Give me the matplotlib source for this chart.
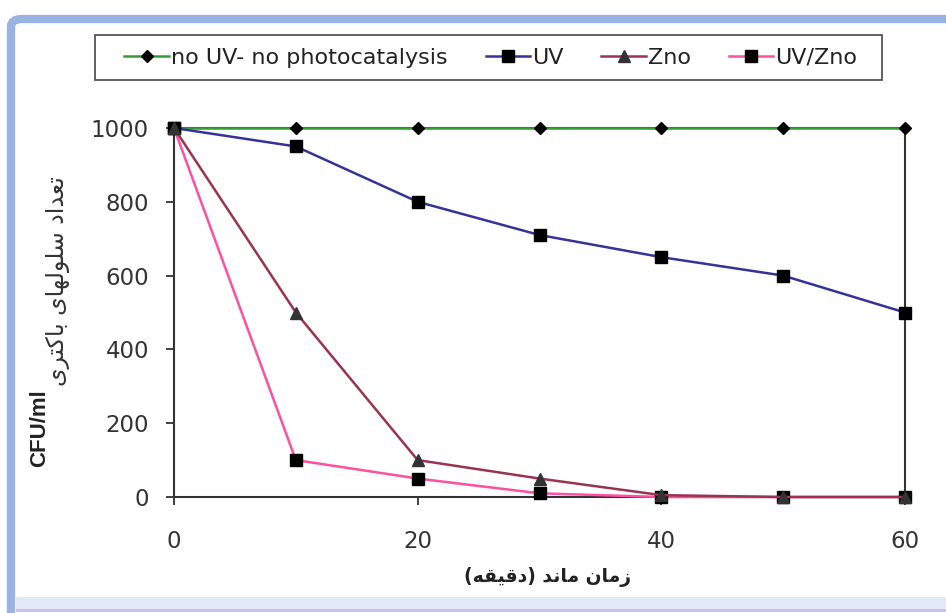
# plot.py
import matplotlib
matplotlib.use('Agg')
import matplotlib.pyplot as plt
from matplotlib.patches import FancyBboxPatch, Rectangle

# --- data ---
minutes = [0, 10, 20, 30, 40, 50, 60]
control = [1000, 1000, 1000, 1000, 1000, 1000, 1000]
uv = [1000, 950, 800, 710, 650, 600, 500]
zno = [1000, 500, 100, 50, 5, 0, 0]
uv_zno = [1000, 100, 50, 10, 0, 0, 0]

series_names = ['no UV- no photocatalysis', 'UV', 'Zno', 'UV/Zno']
x_ticks = [0, 20, 40, 60]
y_ticks = [0, 200, 400, 600, 800, 1000]

x_label_fa = 'زمان ماند (دقیقه)'
y_label_fa = 'تعداد سلولهای باکتری'
y_label_en = 'CFU/ml'

# --- tiny Persian shaper: matplotlib does not join or reorder Arabic script ---
FORMS = {
    'ا': ('\uFE8D', '\uFE8E', '\uFE8D', '\uFE8E'),
    'ب': ('\uFE8F', '\uFE90', '\uFE91', '\uFE92'),
    'ت': ('\uFE95', '\uFE96', '\uFE97', '\uFE98'),
    'د': ('\uFEA9', '\uFEAA', '\uFEA9', '\uFEAA'),
    'ر': ('\uFEAD', '\uFEAE', '\uFEAD', '\uFEAE'),
    'ز': ('\uFEAF', '\uFEB0', '\uFEAF', '\uFEB0'),
    'س': ('\uFEB1', '\uFEB2', '\uFEB3', '\uFEB4'),
    'ع': ('\uFEC9', '\uFECA', '\uFECB', '\uFECC'),
    'ق': ('\uFED5', '\uFED6', '\uFED7', '\uFED8'),
    'ل': ('\uFEDD', '\uFEDE', '\uFEDF', '\uFEE0'),
    'م': ('\uFEE1', '\uFEE2', '\uFEE3', '\uFEE4'),
    'ن': ('\uFEE5', '\uFEE6', '\uFEE7', '\uFEE8'),
    'ه': ('\uFEE9', '\uFEEA', '\uFEEB', '\uFEEC'),
    'و': ('\uFEED', '\uFEEE', '\uFEED', '\uFEEE'),
    'ی': ('\uFEEF', '\uFEF0', '\uFEF3', '\uFEF4'),
    'ک': ('\uFB8E', '\uFB8F', '\uFB90', '\uFB91'),
}
RIGHT_ONLY = set('ادرزو')


def shape(text):
    out = []
    for i, c in enumerate(text):
        if c not in FORMS:
            out.append(c)
            continue
        prev = text[i - 1] if i > 0 else ''
        nxt = text[i + 1] if i + 1 < len(text) else ''
        a = prev in FORMS and prev not in RIGHT_ONLY
        b = c not in RIGHT_ONLY and nxt in FORMS
        f = FORMS[c]
        if a and b:
            out.append(f[3])
        elif a:
            out.append(f[1])
        elif b:
            out.append(f[2])
        else:
            out.append(f[0])
    s = ''.join(reversed(out))
    return s.translate(str.maketrans('()', ')('))


W, H = 946, 613
fig = plt.figure(figsize=(W / 100, H / 100), dpi=100)
fig.patch.set_facecolor('white')

# chart frame (rounded blue border top/left, light band at the bottom)
fig.patches.append(FancyBboxPatch((11 / W, -0.1), 1.2, 1.1 - 19 / H,
                                  boxstyle='round,pad=0,rounding_size=0.012',
                                  transform=fig.transFigure, facecolor='white',
                                  edgecolor='#9bb3e3', linewidth=6, zorder=0))
fig.patches.append(Rectangle((16 / W, 4 / H), 1, 12 / H, transform=fig.transFigure,
                             facecolor='#e2e9f6', edgecolor='none', zorder=1))
fig.patches.append(Rectangle((16 / W, 1 / H), 1, 3 / H, transform=fig.transFigure,
                             facecolor='#cdbff0', edgecolor='none', zorder=1))
# legend box
fig.patches.append(Rectangle((95 / W, 1 - 80 / H), 787 / W, 45 / H,
                             transform=fig.transFigure, facecolor='white',
                             edgecolor='#555555', linewidth=1.3, zorder=1))

ax = fig.add_axes([174 / W, 1 - 497 / H, (905 - 174) / W, (497 - 128) / H])
ax.set_zorder(2)

ax.plot(minutes, control, color='#33a033', lw=1.8, marker='D', ms=6.5,
        mfc='black', mec='black', clip_on=False, zorder=3)
ax.plot(minutes, uv, color='#333399', lw=1.8, marker='s', ms=9,
        mfc='black', mec='black', clip_on=False, zorder=3)
ax.plot(minutes, zno, color='#993350', lw=1.8, marker='^', ms=9,
        mfc='#333333', mec='#333333', clip_on=False, zorder=4)
ax.plot(minutes, uv_zno, color='#ff4fa0', lw=1.8, marker='s', ms=9,
        mfc='black', mec='black', clip_on=False, zorder=3)

ax.set_xlim(0, 60)
ax.set_ylim(0, 1000)
ax.set_xticks(x_ticks)
ax.set_xticks(minutes, minor=True)
ax.set_yticks(y_ticks)
for s in ax.spines.values():
    s.set_color('#333333')
    s.set_linewidth(1.5)
ax.tick_params(axis='both', which='both', direction='out', length=6, width=1.3,
               color='#333333', labelcolor='#333333', labelsize=16.5,
               labelfontfamily='DejaVu Sans')
ax.tick_params(axis='x', which='minor', length=0)
ax.tick_params(axis='y', pad=12)
ax.tick_params(axis='x', pad=18)

leg = fig.legend(series_names, loc='center', ncol=4,
                 bbox_to_anchor=(491 / W, 1 - 57.5 / H),
                 prop={'family': 'DejaVu Sans', 'size': 16},
                 handlelength=2.0, handletextpad=0.1, columnspacing=1.7,
                 borderpad=0.3, borderaxespad=0, frameon=False)
for t in leg.get_texts():
    t.set_color('#222222')

fig.text(547 / W, 1 - 577 / H, shape(x_label_fa), ha='center', va='center',
         fontsize=13.5, fontweight='bold', family='DejaVu Sans', color='#222222')
fig.text(40 / W, 1 - 467 / H, y_label_en, rotation=90, ha='center',
         va='bottom', fontsize=16, fontweight='bold',
         family='Liberation Sans', color='#222222')
fig.text(58 / W, 1 - 386 / H, shape(y_label_fa), rotation=90, ha='center',
         va='bottom', fontsize=17, family='DejaVu Sans', color='#333333')

fig.savefig('out.png', dpi=100)
